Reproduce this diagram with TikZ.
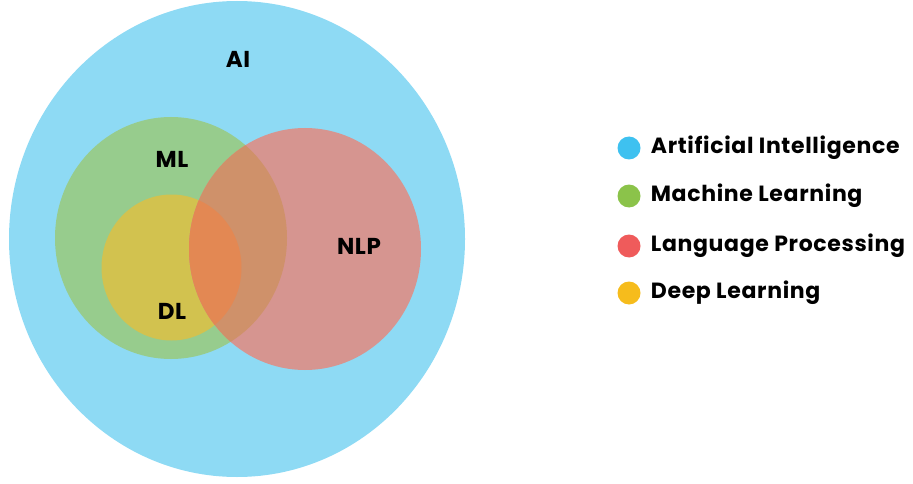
\documentclass[tikz,border=0pt]{standalone}
\usepackage{fontspec}
\setmainfont{Poppins}
\newfontfamily\vennfont[LetterSpace=3]{Poppins}
\usetikzlibrary{positioning}

\definecolor{aiFill}{HTML}{8EDAF4}
\definecolor{mlFill}{HTML}{97CC8D}
\definecolor{dlFill}{HTML}{D2C24F}
\definecolor{nlpFill}{HTML}{D69590}
\definecolor{mlNlpFill}{HTML}{CF916A}
\definecolor{dlNlpFill}{HTML}{E38853}
\definecolor{aiDot}{HTML}{3EC1F0}
\definecolor{mlDot}{HTML}{8BC34A}
\definecolor{nlpDot}{HTML}{EF5B5B}
\definecolor{dlDot}{HTML}{F6BC1C}

\begin{document}
\begin{tikzpicture}
[x=1pt,y=-1pt,
 setLabel/.style={font=\vennfont\fontsize{23}{27}\selectfont\bfseries,inner sep=0pt},
 dotDecorate/.style={shape=circle,inner sep=0pt,minimum size=23pt},
 keyDecorate/.style={font=\vennfont\fontsize{22}{26}\selectfont\bfseries,inner sep=0pt,anchor=west}]

 \useasboundingbox (0,0) rectangle (913,484);

 % the sets
 \fill[aiFill] (237,239) ellipse [x radius=228pt, y radius=238pt];
 \fill[mlFill] (171,238) ellipse [x radius=116pt, y radius=121pt];
 \fill[dlFill] (171.5,267.5) ellipse [x radius=70pt, y radius=73pt];
 \fill[nlpFill] (305,249) ellipse [x radius=116pt, y radius=121pt];
 \begin{scope}
  \clip (305,249) ellipse [x radius=116pt, y radius=121pt];
  \fill[mlNlpFill] (171,238) ellipse [x radius=116pt, y radius=121pt];
  \fill[dlNlpFill] (171.5,267.5) ellipse [x radius=70pt, y radius=73pt];
 \end{scope}

 \node (AI) at (238,59) [setLabel] {AI};
 \node (ML) at (172,159) [setLabel] {ML};
 \node (DL) at (172,311) [setLabel] {DL};
 \node (NLP) at (359,246) [setLabel] {NLP};

 % legend
 \foreach \keyname/\y/\txt in {
aiDot/148/Artificial Intelligence,
mlDot/196/Machine Learning,
nlpDot/246/Language Processing,
dlDot/293/Deep Learning
 }
 {
          \node (\keyname) at (629,\y) [dotDecorate, fill=\keyname] {};
          \node (\keyname Text) [keyDecorate, right=10pt of \keyname] {\txt};
 }

\end{tikzpicture}
\end{document}
